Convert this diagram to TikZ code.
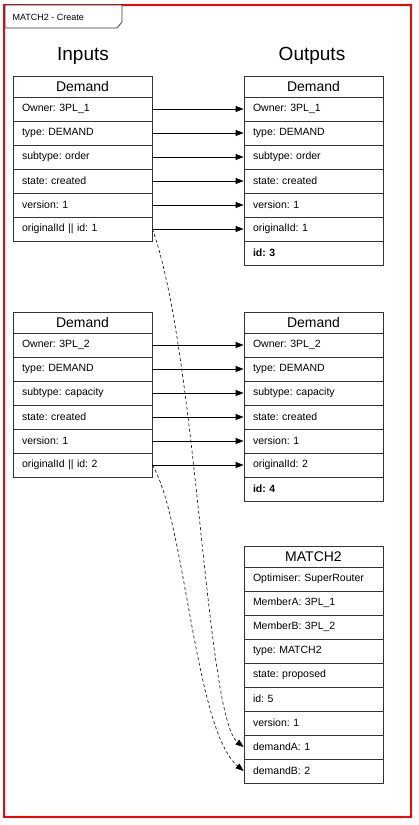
\documentclass[tikz,border=0pt]{standalone}
\usepackage{fontspec}
\setmainfont{Liberation Sans}
\usepackage{xcolor}
\usetikzlibrary{arrows.meta,positioning,calc}
\definecolor{framered}{RGB}{255,0,0}
\definecolor{boxline}{RGB}{51,51,51}
\frenchspacing

\begin{document}
\begin{tikzpicture}[x=1pt, y=-1pt,
            head/.style={rectangle, draw=boxline, line width=0.8pt, fill=white, minimum width=139pt, minimum height=21pt, inner sep=0pt, text centered, font=\fontsize{14}{16}\selectfont},
            row/.style={rectangle, draw=boxline, line width=0.8pt, fill=white, text width=121pt, inner xsep=9pt, inner ysep=0pt, minimum height=24pt, align=left, font=\fontsize{10.5}{12}\selectfont},
            title/.style={font=\fontsize{19}{22}\selectfont},
            link/.style={-{Triangle[length=8pt,width=6pt]}, line width=0.8pt, black},
            reflink/.style={-{Triangle[length=8pt,width=6pt]}, line width=0.6pt, black, dash pattern=on 3pt off 2.5pt}
        ]
        \useasboundingbox (0,0) rectangle (418,825);
        
        % Frame
        \draw[framered, line width=1.5pt] (4,5) rectangle (411,817);
        \draw[boxline, line width=0.7pt, fill=white] (5,5) -- (122,5) -- (122,22) -- (117,28) -- (5,28) -- cycle;
        \node[anchor=west, font=\fontsize{9}{11}\selectfont] (frametitle) at (9,17) {MATCH2 - Create};
        
        % Titles
        \node[title] (inputs) at (83,56) {Inputs};
        \node[title] (outputs) at (312,56) {Outputs};
        
        % Input Demand 1
        \node[head] (inA) at (82.5,86.5) {Demand};
        \node[row] (inAowner) at (82.5,109) {Owner: 3PL\_1};
        \node[row] (inAtype) at (82.5,133) {type: DEMAND};
        \node[row] (inAsub) at (82.5,157) {subtype: order};
        \node[row] (inAstate) at (82.5,181) {state: created};
        \node[row] (inAver) at (82.5,205) {version: 1};
        \node[row] (inAorig) at (82.5,229) {originalId || id: 1};
        
        % Output Demand 1
        \node[head] (outA) at (313.5,86.5) {Demand};
        \node[row] (outAowner) at (313.5,109) {Owner: 3PL\_1};
        \node[row] (outAtype) at (313.5,133) {type: DEMAND};
        \node[row] (outAsub) at (313.5,157) {subtype: order};
        \node[row] (outAstate) at (313.5,181) {state: created};
        \node[row] (outAver) at (313.5,205) {version: 1};
        \node[row] (outAorig) at (313.5,229) {originalId: 1};
        \node[row] (outAid) at (313.5,253) {\textbf{id: 3}};
        
        % Input Demand 2
        \node[head] (inB) at (82.5,322.5) {Demand};
        \node[row] (inBowner) at (82.5,345) {Owner: 3PL\_2};
        \node[row] (inBtype) at (82.5,369) {type: DEMAND};
        \node[row] (inBsub) at (82.5,393) {subtype: capacity};
        \node[row] (inBstate) at (82.5,417) {state: created};
        \node[row] (inBver) at (82.5,441) {version: 1};
        \node[row] (inBorig) at (82.5,465) {originalId || id: 2};
        
        % Output Demand 2
        \node[head] (outB) at (313.5,322.5) {Demand};
        \node[row] (outBowner) at (313.5,345) {Owner: 3PL\_2};
        \node[row] (outBtype) at (313.5,369) {type: DEMAND};
        \node[row] (outBsub) at (313.5,393) {subtype: capacity};
        \node[row] (outBstate) at (313.5,417) {state: created};
        \node[row] (outBver) at (313.5,441) {version: 1};
        \node[row] (outBorig) at (313.5,465) {originalId: 2};
        \node[row] (outBid) at (313.5,489) {\textbf{id: 4}};
        
        % Match
        \node[head] (match) at (313.5,556.5) {MATCH2};
        \node[row] (matchopt) at (313.5,579) {Optimiser: SuperRouter};
        \node[row] (matchmemA) at (313.5,603) {MemberA: 3PL\_1};
        \node[row] (matchmemB) at (313.5,627) {MemberB: 3PL\_2};
        \node[row] (matchtype) at (313.5,651) {type: MATCH2};
        \node[row] (matchstate) at (313.5,675) {state: proposed};
        \node[row] (matchid) at (313.5,699) {id: 5};
        \node[row] (matchver) at (313.5,723) {version: 1};
        \node[row] (matchdemA) at (313.5,747) {demandA: 1};
        \node[row] (matchdemB) at (313.5,771) {demandB: 2};
        
        % Arrows
        \draw[link] (inAowner) -- (outAowner);
        \draw[link] (inAtype) -- (outAtype);
        \draw[link] (inAsub) -- (outAsub);
        \draw[link] (inAstate) -- (outAstate);
        \draw[link] (inAver) -- (outAver);
        \draw[link] (inAorig) -- (outAorig);
        \draw[link] (inBowner) -- (outBowner);
        \draw[link] (inBtype) -- (outBtype);
        \draw[link] (inBsub) -- (outBsub);
        \draw[link] (inBstate) -- (outBstate);
        \draw[link] (inBver) -- (outBver);
        \draw[link] (inBorig) -- (outBorig);
        \draw[reflink] (inAorig.east) .. controls +(45,125) and +(-38,-30) .. (matchdemA.west);
        \draw[reflink] (inBorig.east) .. controls +(33,55) and +(-49,-41) .. (matchdemB.west);
        
        \end{tikzpicture}
\end{document}
